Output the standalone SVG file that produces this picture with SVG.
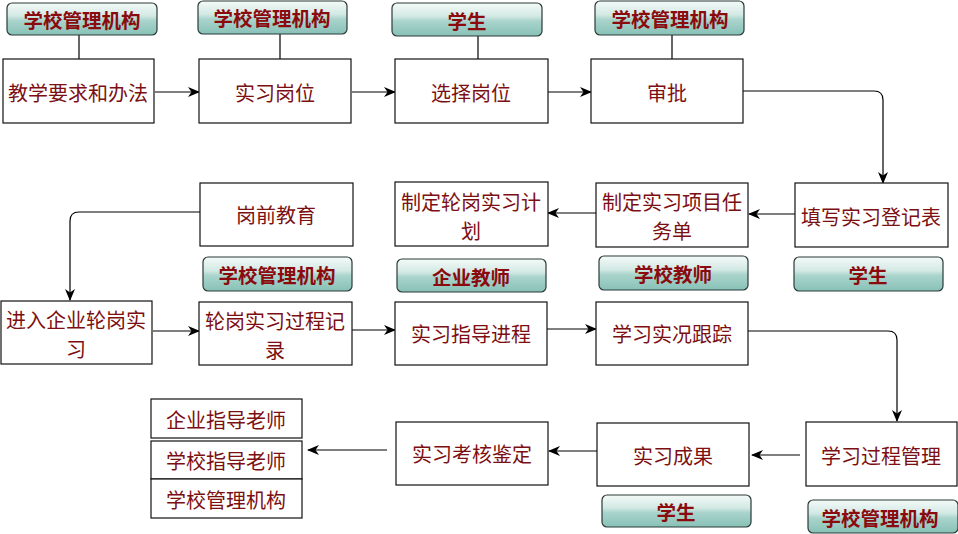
<svg xmlns="http://www.w3.org/2000/svg" width="958" height="534" viewBox="0 0 958 534">
<defs>
<linearGradient id="gl" x1="0" y1="0" x2="0" y2="1">
<stop offset="0" stop-color="#f4faf8"/>
<stop offset="0.4" stop-color="#d3e9e4"/>
<stop offset="0.55" stop-color="#a9d4cc"/>
<stop offset="1" stop-color="#88c1b7"/>
</linearGradient>
<marker id="ar" viewBox="0 0 12 10" refX="11" refY="5" markerWidth="12" markerHeight="10" markerUnits="userSpaceOnUse" orient="auto">
<path d="M0,0 L12,5 L0,10 L3.5,5 z" fill="#000"/>
</marker>
</defs>
<style>
.box{fill:#fff;stroke:#111;stroke-width:1.2}
.lab{fill:url(#gl);stroke:#2a3a38;stroke-width:1.2}
.bt{font-family:"Noto Sans CJK SC","Microsoft YaHei",sans-serif;font-size:20px;fill:#7c0f12;text-anchor:middle;dominant-baseline:central}
.lt{font-family:"Noto Sans CJK SC","Microsoft YaHei",sans-serif;font-size:19.5px;font-weight:bold;fill:#8a0a0e;text-anchor:middle;dominant-baseline:central}
.ln{fill:none;stroke:#000;stroke-width:1.2}
.ac{fill:none;stroke:#000;stroke-width:1.2;marker-end:url(#ar)}
</style>
<rect width="958" height="534" fill="#fff"/>
<g id="connectors">
<line class="ln" x1="79" y1="35" x2="79" y2="59"/>
<line class="ln" x1="280" y1="34" x2="280" y2="59"/>
<line class="ln" x1="478" y1="36" x2="478" y2="59"/>
<line class="ln" x1="672" y1="35" x2="672" y2="59"/>
<line class="ac" x1="155" y1="92" x2="199" y2="92"/>
<line class="ac" x1="352" y1="92" x2="395" y2="92"/>
<line class="ac" x1="548" y1="92" x2="591" y2="92"/>
<path class="ac" d="M743,91 H874 Q883,91 883,100 V183"/>
<line class="ac" x1="795" y1="214" x2="749" y2="214"/>
<line class="ac" x1="596" y1="213" x2="548" y2="213"/>
<path class="ac" d="M200,212 H79 Q70,212 70,221 V300"/>
<line class="ac" x1="153" y1="331" x2="199" y2="331"/>
<line class="ac" x1="352" y1="330" x2="395" y2="330"/>
<line class="ac" x1="547" y1="329" x2="596" y2="329"/>
<path class="ac" d="M748,331 H888 Q897,331 897,340 V421"/>
<line class="ac" x1="800" y1="455" x2="752" y2="455"/>
<line class="ac" x1="597" y1="451" x2="549" y2="451"/>
<line class="ac" x1="387" y1="450" x2="308" y2="450"/>
</g>
<g id="lab1"><rect class="lab" x="7" y="3" width="150" height="32" rx="5"/><text class="lt" x="82" y="19">学校管理机构</text></g>
<g id="lab2"><rect class="lab" x="198" y="1" width="149" height="33" rx="5"/><text class="lt" x="272" y="17">学校管理机构</text></g>
<g id="lab3"><rect class="lab" x="392" y="3" width="150" height="33" rx="5"/><text class="lt" x="467" y="20">学生</text></g>
<g id="lab4"><rect class="lab" x="595" y="1" width="149" height="34" rx="5"/><text class="lt" x="670" y="18">学校管理机构</text></g>
<g id="n1"><rect class="box" x="3" y="59" width="151" height="64"/><text class="bt" x="78" y="92">教学要求和办法</text></g>
<g id="n2"><rect class="box" x="199" y="59" width="152" height="64"/><text class="bt" x="275" y="92">实习岗位</text></g>
<g id="n3"><rect class="box" x="395" y="59" width="153" height="64"/><text class="bt" x="471" y="92">选择岗位</text></g>
<g id="n4"><rect class="box" x="591" y="59" width="152" height="64"/><text class="bt" x="667" y="92">审批</text></g>
<g id="n5"><rect class="box" x="795" y="183" width="153" height="64"/><text class="bt" x="871" y="216">填写实习登记表</text></g>
<g id="n6"><rect class="box" x="596" y="183" width="152" height="64"/><text class="bt" x="672" y="201"><tspan x="672" y="201">制定实习项目任</tspan><tspan x="672" y="230">务单</tspan></text></g>
<g id="n7"><rect class="box" x="395" y="182" width="153" height="64"/><text class="bt" x="471" y="201"><tspan x="471" y="201">制定轮岗实习计</tspan><tspan x="471" y="230">划</tspan></text></g>
<g id="n8"><rect class="box" x="200" y="183" width="153" height="63"/><text class="bt" x="276" y="214">岗前教育</text></g>
<g id="lab5"><rect class="lab" x="203" y="257" width="149" height="34" rx="5"/><text class="lt" x="277" y="274">学校管理机构</text></g>
<g id="lab6"><rect class="lab" x="397" y="259" width="149" height="33" rx="5"/><text class="lt" x="471" y="276">企业教师</text></g>
<g id="lab7"><rect class="lab" x="599" y="256" width="149" height="34" rx="5"/><text class="lt" x="673" y="273">学校教师</text></g>
<g id="lab8"><rect class="lab" x="794" y="257" width="149" height="34" rx="5"/><text class="lt" x="868" y="274">学生</text></g>
<g id="n9"><rect class="box" x="1" y="301" width="151" height="63"/><text class="bt" x="76" y="319"><tspan x="76" y="319">进入企业轮岗实</tspan><tspan x="76" y="348">习</tspan></text></g>
<g id="n10"><rect class="box" x="199" y="302" width="153" height="63"/><text class="bt" x="275" y="320"><tspan x="275" y="320">轮岗实习过程记</tspan><tspan x="275" y="349">录</tspan></text></g>
<g id="n11"><rect class="box" x="395" y="302" width="152" height="63"/><text class="bt" x="471" y="333">实习指导进程</text></g>
<g id="n12"><rect class="box" x="596" y="302" width="152" height="63"/><text class="bt" x="672" y="333">学习实况跟踪</text></g>
<g id="n13"><rect class="box" x="806" y="422" width="151" height="64"/><text class="bt" x="881" y="455">学习过程管理</text></g>
<g id="n14"><rect class="box" x="597" y="423" width="152" height="63"/><text class="bt" x="673" y="455">实习成果</text></g>
<g id="n15"><rect class="box" x="396" y="422" width="152" height="63"/><text class="bt" x="472" y="453">实习考核鉴定</text></g>
<g id="n16">
<rect class="box" x="151" y="399" width="151" height="39"/><text class="bt" x="226" y="419">企业指导老师</text>
<rect class="box" x="151" y="441" width="151" height="38"/><text class="bt" x="226" y="460">学校指导老师</text>
<rect class="box" x="151" y="479" width="151" height="39"/><text class="bt" x="226" y="499">学校管理机构</text>
</g>
<g id="lab9"><rect class="lab" x="602" y="495" width="149" height="32" rx="5"/><text class="lt" x="676" y="511">学生</text></g>
<g id="lab10"><rect class="lab" x="808" y="500" width="150" height="33" rx="5"/><text class="lt" x="880" y="517">学校管理机构</text></g>
</svg>
